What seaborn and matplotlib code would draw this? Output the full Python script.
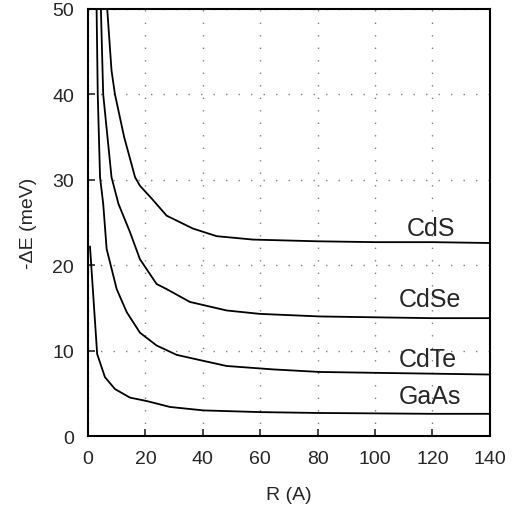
import pandas as pd
import matplotlib
matplotlib.use("Agg")
import matplotlib.pyplot as plt
import seaborn as sns

# Data
r_cds = [6.7, 8.2, 9.4, 12.6, 16.4, 18.1, 22.2, 27.4, 36.5, 44.8, 57.5, 80, 100, 120, 140]
e_cds = [50.0, 42.8, 40.0, 35.0, 30.3, 29.3, 27.8, 25.8, 24.3, 23.4, 23.0, 22.8, 22.7, 22.7, 22.6]

r_cdse = [4.5, 5.3, 8.2, 10.6, 14.6, 18.1, 23.9, 27.4, 35.5, 48.3, 59.9, 80.8, 100, 120, 140]
e_cdse = [50.0, 40.0, 30.3, 27.2, 23.9, 20.7, 17.8, 17.2, 15.7, 14.7, 14.3, 14.0, 13.9, 13.8, 13.8]

r_cdte = [3.0, 3.4, 4.2, 5.3, 6.5, 10.0, 13.5, 18.1, 23.9, 30.9, 40.2, 48.3, 64.5, 80.8, 100, 120, 140]
e_cdte = [50.0, 40.0, 30.3, 27.2, 21.9, 17.2, 14.5, 12.1, 10.6, 9.5, 8.8, 8.2, 7.8, 7.5, 7.4, 7.3, 7.2]

r_gaas = [0.7, 3.2, 5.9, 9.4, 14.6, 20.4, 28.6, 40.2, 60, 80, 100, 120, 140]
e_gaas = [22.2, 9.6, 6.9, 5.5, 4.5, 4.1, 3.4, 3.0, 2.8, 2.7, 2.65, 2.6, 2.6]

names = ["CdS", "CdSe", "CdTe", "GaAs"]
label_x = [111.0, 108.4, 108.4, 108.4]
label_y = [23.5, 15.2, 8.2, 3.9]

series = [(r_cds, e_cds), (r_cdse, e_cdse), (r_cdte, e_cdte), (r_gaas, e_gaas)]
frames = []
for name, (r, e) in zip(names, series):
    frames.append(pd.DataFrame({"R": r, "E": e, "material": name}))
df = pd.concat(frames, ignore_index=True)

sns.set_style("white")
plt.rcParams["font.family"] = ["Liberation Sans", "DejaVu Sans"]

fig = plt.figure(figsize=(5.13, 5.10), dpi=100)
ax = fig.add_axes([0.1715, 0.1431, 0.7835, 0.8373])

sns.lineplot(data=df, x="R", y="E", units="material", estimator=None,
             color="black", linewidth=1.3, sort=False, ax=ax)

for name, x, y in zip(names, label_x, label_y):
    ax.text(x, y, name, fontsize=18, ha="left", va="baseline")

ax.set_xlim(0, 140)
ax.set_ylim(0, 50)
ax.set_xticks(range(0, 141, 20))
ax.set_yticks(range(0, 51, 10))
ax.grid(True, color="gray", linestyle=(0, (1, 8)), linewidth=1)
ax.tick_params(direction="in", length=5, width=1.2, labelsize=14,
               bottom=True, left=True, top=False, right=False, pad=10)
for s in ax.spines.values():
    s.set_color("black")
    s.set_linewidth(1.5)

ax.set_xlabel("R (A)", fontsize=14, labelpad=14)
ax.set_ylabel("-\u0394E (meV)", fontsize=14, labelpad=11)

fig.savefig("out.png", dpi=100)
